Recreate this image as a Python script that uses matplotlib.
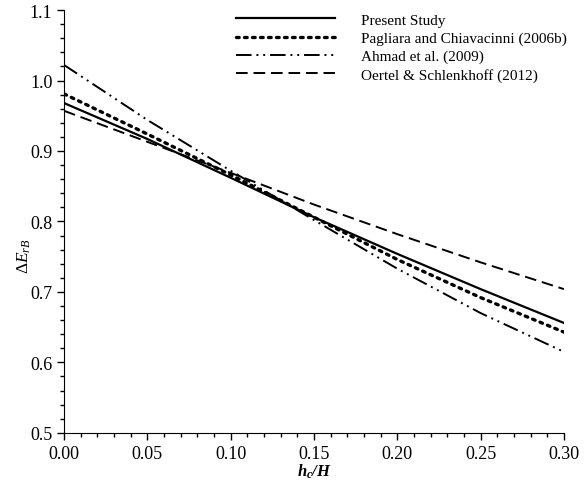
"""Energy loss vs relative critical depth comparison."""

import matplotlib
matplotlib.use("Agg")
import matplotlib.pyplot as plt
from matplotlib.ticker import MultipleLocator

plt.rcParams["font.family"] = ["Liberation Serif", "DejaVu Serif"]
plt.rcParams["mathtext.fontset"] = "custom"
plt.rcParams["mathtext.rm"] = "Liberation Serif"
plt.rcParams["mathtext.it"] = "Liberation Serif:italic"
plt.rcParams["mathtext.bf"] = "Liberation Serif:bold:italic"

# values
hc_H = [0.00, 0.05, 0.10, 0.15, 0.20, 0.25, 0.30]
present = [0.968, 0.917, 0.862, 0.806, 0.754, 0.704, 0.656]
pagliara = [0.981, 0.924, 0.866, 0.806, 0.746, 0.692, 0.643]
ahmad = [1.022, 0.944, 0.872, 0.802, 0.733, 0.670, 0.615]
oertel = [0.957, 0.913, 0.869, 0.824, 0.782, 0.742, 0.704]

labels = ["Present Study", "Pagliara and Chiavacinni (2006b)",
          "Ahmad et al. (2009)", "Oertel & Schlenkhoff (2012)"]

fig = plt.figure(figsize=(5.88, 4.81), dpi=100)
ax = fig.add_axes([0.109, 0.098, 0.850, 0.879])

ax.plot(hc_H, present, color="black", lw=1.6, ls="-", label=labels[0])
ax.plot(hc_H, pagliara, color="black", lw=2.4, ls=(0, (0.8, 1.6)),
        dash_capstyle="round", label=labels[1])
ax.plot(hc_H, ahmad, color="black", lw=1.4,
        ls=(0, (8, 2.5, 1, 2.5, 1, 2.5)), label=labels[2])
ax.plot(hc_H, oertel, color="black", lw=1.4, ls=(0, (6, 3)), label=labels[3])

ax.set_xlim(0, 0.30)
ax.set_ylim(0.5, 1.1)
ax.xaxis.set_major_locator(MultipleLocator(0.05))
ax.xaxis.set_minor_locator(MultipleLocator(0.01))
ax.yaxis.set_major_locator(MultipleLocator(0.1))
ax.yaxis.set_minor_locator(MultipleLocator(0.02))
ax.xaxis.set_major_formatter(plt.FormatStrFormatter("%.2f"))
ax.yaxis.set_major_formatter(plt.FormatStrFormatter("%.1f"))

for side in ("top", "right"):
    ax.spines[side].set_visible(False)
ax.tick_params(which="both", direction="out", labelsize=13, width=1)
ax.tick_params(which="major", length=5)
ax.tick_params(which="minor", length=3)

ax.set_xlabel(r"$\mathbf{h_c/H}$", fontsize=12, labelpad=0)
ax.set_ylabel(r"$\Delta E_{rB}$", fontsize=12.5)
ax.yaxis.set_label_coords(-0.062, 0.42)

ax.legend(loc="upper right", bbox_to_anchor=(1.025, 1.015), frameon=False,
          fontsize=11, handlelength=6.5, handletextpad=1.7,
          labelspacing=0.3, borderaxespad=0.2)

fig.savefig("out.png", dpi=100)
plt.close(fig)
